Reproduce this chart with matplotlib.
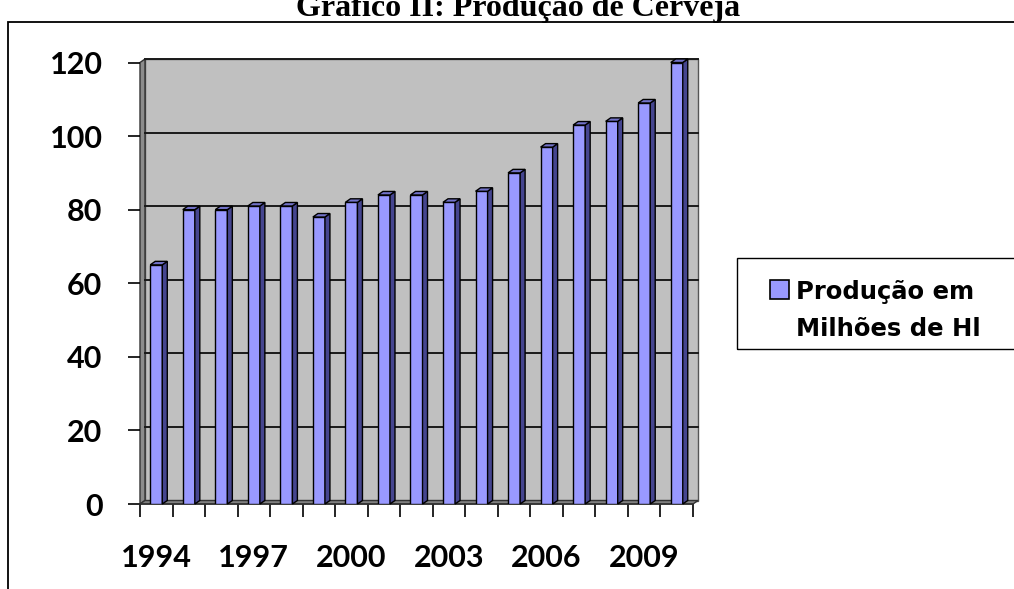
import numpy as np
import matplotlib.pyplot as plt
from matplotlib.patches import Rectangle, Polygon

# dados do grafico
anos = ['1994', '1995', '1996', '1997', '1998', '1999', '2000', '2001', '2002',
        '2003', '2004', '2005', '2006', '2007', '2008', '2009', '2010']
producao = [65, 80, 80, 81, 81, 78, 82, 84, 84, 82, 85, 90, 97, 103, 104, 109, 120]
yticks = [0, 20, 40, 60, 80, 100, 120]
serie = 'Produção em\nMilhões de Hl'
titulo = 'Gráfico II: Produção de Cerveja'

W, H = 1014, 589
fig = plt.figure(figsize=(W / 100, H / 100), dpi=100)

def fx(x):
    return x / W

def fy(y):
    return 1 - y / H

# area do grafico (plano da frente)
L, R, T, B = 140, 693, 62.5, 504
ax = fig.add_axes([fx(L), fy(B), (R - L) / W, (B - T) / H])
ax.set_facecolor('none')
n = len(anos)
x = np.arange(n)
ax.set_xlim(-0.5, n - 0.5)
ax.set_ylim(0, 120)
for s in ax.spines.values():
    s.set_visible(False)

# profundidade 3D em pixeis
DX, DY = 5, 3.5
ox = DX / (R - L)
oy = DY / (B - T)
dxd = DX / ((R - L) / n)
dyd = DY / ((B - T) / 120)

# paredes
ax.add_patch(Rectangle((ox, oy), 1, 1, transform=ax.transAxes, facecolor='#c0c0c0',
                       edgecolor='#555555', lw=1, clip_on=False, zorder=0))
ax.add_patch(Polygon([(0, 0), (0, 1), (ox, 1 + oy), (ox, oy)], transform=ax.transAxes,
                     facecolor='#8c8c8c', edgecolor='#333333', lw=1, clip_on=False, zorder=0.5))
ax.add_patch(Polygon([(0, 0), (1, 0), (1 + ox, oy), (ox, oy)], transform=ax.transAxes,
                     facecolor='#808080', edgecolor='#333333', lw=1, clip_on=False, zorder=0.5))
for v in yticks[1:]:
    ax.plot([ox, 1 + ox], [v / 120 + oy, v / 120 + oy], transform=ax.transAxes,
            color='#1a1a1a', lw=1.4, clip_on=False, zorder=1)

# barras
w = 0.37
ax.bar(x, producao, width=w, color='#9999ff', edgecolor='black', lw=1, zorder=3)
for xi, v in zip(x, producao):
    lado = [(xi + w / 2, 0), (xi + w / 2 + dxd, dyd), (xi + w / 2 + dxd, v + dyd), (xi + w / 2, v)]
    topo = [(xi - w / 2, v), (xi + w / 2, v), (xi + w / 2 + dxd, v + dyd), (xi - w / 2 + dxd, v + dyd)]
    ax.add_patch(Polygon(lado, facecolor='#45458f', edgecolor='black', lw=1, zorder=3, clip_on=False))
    ax.add_patch(Polygon(topo, facecolor='#7272c8', edgecolor='black', lw=1, zorder=3, clip_on=False))

# eixos
fonte = ['Lato', 'DejaVu Sans']
ax.set_yticks(yticks)
ax.set_yticklabels([str(v) for v in yticks], fontsize=22, fontweight='bold', family=fonte)
ax.tick_params(axis='y', direction='out', length=9, width=1.2, pad=18)
ax.set_xticks(x[::3])
ax.set_xticklabels(anos[::3], fontsize=22, fontweight='bold', family=fonte)
ax.set_xticks(np.arange(n + 1) - 0.5, minor=True)
ax.tick_params(axis='x', which='major', length=0, pad=29)
ax.tick_params(axis='x', which='minor', direction='out', length=9, width=1.2)
ax.plot([-0.5, n - 0.5], [0, 0], color='#333333', lw=1.2, clip_on=False, zorder=2)

# moldura exterior
fig.add_artist(Rectangle((fx(8), -0.1), 2, fy(22) + 0.1, transform=fig.transFigure,
                         fill=False, edgecolor='black', lw=1.3))

# legenda
fig.add_artist(Rectangle((fx(737), fy(349)), 1, (349 - 258) / H, transform=fig.transFigure,
                         fill=False, edgecolor='black', lw=1))
fig.add_artist(Rectangle((fx(770), fy(299)), 19 / W, 19 / H, transform=fig.transFigure,
                         facecolor='#9999ff', edgecolor='black', lw=1.2))
linhas = serie.split('\n')
fig.text(fx(796), fy(299), linhas[0], fontsize=17.5, fontweight='bold', family='DejaVu Sans', va='baseline')
fig.text(fx(796), fy(336), linhas[1], fontsize=17.5, fontweight='bold', family='DejaVu Sans', va='baseline')

# titulo (cortado no topo, como no original)
fig.text(0.511, fy(16), titulo, fontsize=23, fontweight='bold', family='Liberation Serif',
         ha='center', va='baseline')

fig.savefig('out.png', dpi=100)
